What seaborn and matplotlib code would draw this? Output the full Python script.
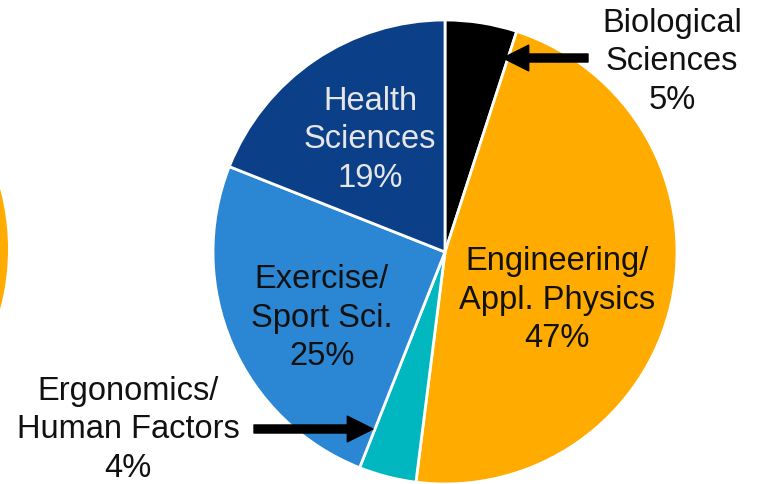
import matplotlib
matplotlib.use('Agg')
import matplotlib.pyplot as plt
import seaborn as sns
from matplotlib.patches import Circle

sns.set_theme(style='white')
plt.rcParams['font.family'] = ['Liberation Sans', 'DejaVu Sans']

# slices, clockwise from 12 o'clock
fields = ['Biological\nSciences', 'Engineering/\nAppl. Physics', 'Ergonomics/\nHuman Factors',
          'Exercise/\nSport Sci.', 'Health\nSciences']
shares = [5, 47, 4, 25, 19]
colors = ['#000000', '#FFAB00', '#00B7BF', '#2B87D3', '#0B4088']

# label placement (pixels, y from bottom) and text colour
label_pos = [(672, 423), (557, 185), (128, 55), (322, 167), (370, 345)]
label_col = ['#111111', '#111111', '#111111', '#111111', '#E6E6E6']

fig = plt.figure(figsize=(7.61, 4.85), dpi=100)
ax = fig.add_axes([0, 0, 1, 1])

# piece of the neighbouring pie peeking in on the left
ax.add_patch(Circle((-224, 235), 232, color='#FFAB00', lw=0))

wedges, _ = ax.pie(shares, colors=colors, startangle=90, counterclock=False,
                   center=(445, 232), radius=232, frame=True,
                   wedgeprops=dict(edgecolor='white', linewidth=2))
ax.set_xlim(0, 761)
ax.set_ylim(0, 485)
ax.set_aspect('equal')
ax.axis('off')

for name, val, (x, y), c in zip(fields, shares, label_pos, label_col):
    ax.text(x, y, f'{name}\n{val}%', ha='center', va='center', fontsize=23.5,
            color=c, linespacing=1.32)

arrow = dict(width=5.8, headwidth=18.5, headlength=18.5, color='black', shrink=0)
ax.annotate('', xy=(503, 426), xytext=(588, 426), arrowprops=arrow)
ax.annotate('', xy=(373, 55), xytext=(254, 55), arrowprops=arrow)

fig.savefig('out.png', dpi=100)
